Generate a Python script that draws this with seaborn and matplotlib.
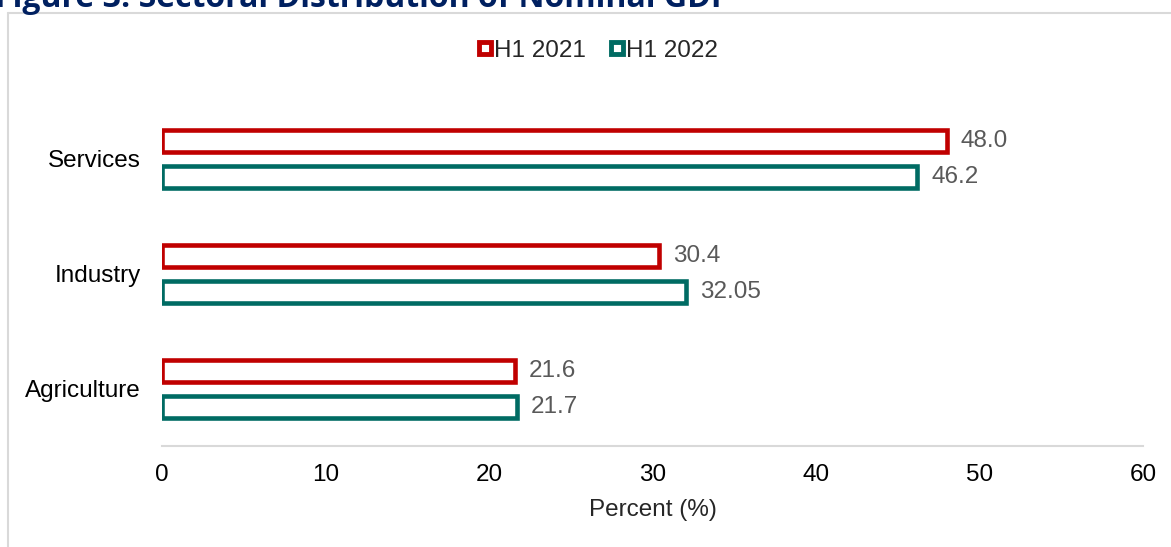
import pandas as pd
import seaborn as sns
from matplotlib import pyplot as plt
from matplotlib.lines import Line2D

# Data
sectors = ["Services", "Industry", "Agriculture"]
h1_2021 = [48.0, 30.4, 21.6]
h1_2022 = [46.2, 32.05, 21.7]
labels_2021 = ["48.0", "30.4", "21.6"]
labels_2022 = ["46.2", "32.05", "21.7"]
periods = ["H1 2021", "H1 2022"]
colors = ["#C00000", "#006B63"]

df = pd.DataFrame({
    "Sector": sectors * 2,
    "Value": h1_2021 + h1_2022,
    "Period": [periods[0]] * 3 + [periods[1]] * 3,
})

sns.set_style("white")
plt.rcParams["font.family"] = ["Liberation Sans", "DejaVu Sans"]
fs = 17.5

fig = plt.figure(figsize=(11.71, 5.47), dpi=100)
ax = fig.add_axes([0.1383, 0.1846, 0.8378, 0.6307])

sns.barplot(data=df, y="Sector", x="Value", hue="Period", order=sectors,
            hue_order=periods, palette=colors, orient="h", width=0.626,
            gap=0.39, fill=False, linewidth=3.3, ax=ax, legend=False)

for container, labs in zip(ax.containers, [labels_2021, labels_2022]):
    ax.bar_label(container, labels=labs, padding=10, color="#595959", fontsize=fs)

ax.set_xlim(0, 60)
ax.set_ylim(2.5, -0.5)
ax.set_xticks(range(0, 61, 10))
ax.tick_params(axis="x", length=0, pad=13, labelsize=fs, colors="black")
ax.tick_params(axis="y", length=0, pad=15, labelsize=fs, colors="black")
ax.set_xlabel("Percent (%)", fontsize=fs, labelpad=9)
ax.set_ylabel("")

for side in ["top", "right", "left"]:
    ax.spines[side].set_visible(False)
ax.spines["bottom"].set_color("#D9D9D9")
ax.spines["bottom"].set_linewidth(1.5)

handles = [Line2D([], [], marker="s", linestyle="none", markersize=9,
                  markerfacecolor="white", markeredgecolor=c, markeredgewidth=3.5)
           for c in colors]
fig.legend(handles, periods, loc="center", bbox_to_anchor=(0.51, 0.907), ncol=2,
           frameon=False, fontsize=fs, handletextpad=0.05, columnspacing=0.9,
           handlelength=0.7)

# outer frame of the exhibit box
fig.add_artist(Line2D([0.007, 1.0], [0.976, 0.976], color="#D9D9D9", lw=1.5))
fig.add_artist(Line2D([0.007, 0.007], [0.0, 0.976], color="#D9D9D9", lw=1.5))

fig.text(-0.004, 0.987, "Figure 3: Sectoral Distribution of Nominal GDP",
         fontsize=23, fontweight="bold", color="#002060", va="baseline",
         ha="left", family=["Open Sans", "DejaVu Sans"])

plt.savefig("out.png", dpi=100)
plt.close()
